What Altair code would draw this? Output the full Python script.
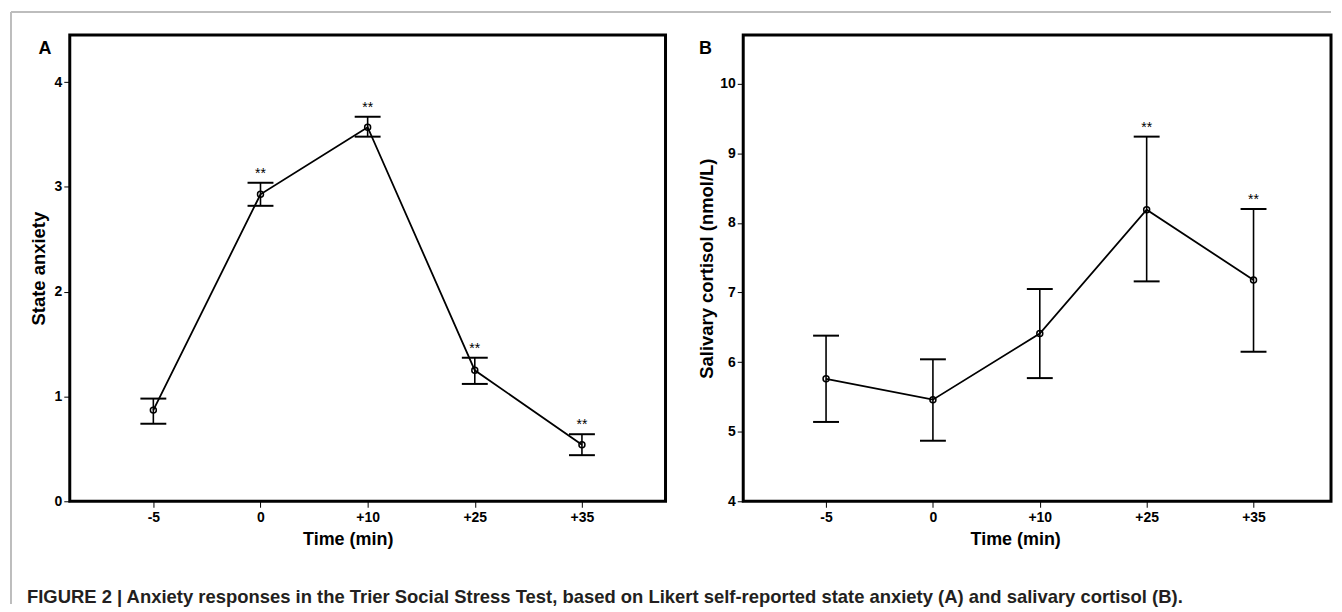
import altair as alt
import pandas as pd

# ---- data ----
times = ["-5", "0", "+10", "+25", "+35"]

anx_mean = [0.87, 2.93, 3.57, 1.25, 0.54]
anx_lo = [0.74, 2.82, 3.48, 1.12, 0.44]
anx_hi = [0.98, 3.04, 3.67, 1.37, 0.64]
anx_sig = ["", "**", "**", "**", "**"]

cort_mean = [5.76, 5.46, 6.41, 8.19, 7.18]
cort_lo = [5.14, 4.87, 5.77, 7.16, 6.15]
cort_hi = [6.38, 6.04, 7.05, 9.24, 8.20]
cort_sig = ["", "", "", "**", "**"]

anx_ticks = [0, 1, 2, 3, 4]
cort_ticks = [4, 5, 6, 7, 8, 9, 10]

caption = ("FIGURE 2 | Anxiety responses in the Trier Social Stress Test, based on Likert "
           "self-reported state anxiety (A) and salivary cortisol (B).")

FONT = "Liberation Sans, Arial, sans-serif"
label_expr = "[" + ",".join("'%s'" % t for t in times) + "][datum.value]"
H = 468


def panel(mean, lo, hi, sig, ydomain, yticks, ytitle, xdomain, width,
          ytitle_x, xtitle_x, letter, letter_x, extra=None):
    df = pd.DataFrame({"idx": list(range(len(times))), "mean": mean,
                       "lo": lo, "hi": hi, "sig": sig})
    base = alt.Chart(df)
    x = alt.X("idx:Q",
              scale=alt.Scale(domain=xdomain, nice=False, zero=False),
              axis=alt.Axis(values=list(range(len(times))), labelExpr=label_expr,
                            title="Time (min)", titleFontSize=18, labelFontSize=14,
                            titleX=xtitle_x, titleY=38, titleBaseline="middle",
                            titleAlign="center", labelPadding=3))
    y = alt.Y("mean:Q",
              scale=alt.Scale(domain=ydomain, nice=False, zero=False),
              axis=alt.Axis(values=yticks, format="d", title=ytitle, titleFontSize=18.5,
                            labelFontSize=14,
                            titleX=ytitle_x, titleY=H / 2, titleBaseline="middle",
                            titleAlign="center", labelPadding=2))
    err = base.mark_rule(color="black", strokeWidth=1.6, opacity=1).encode(
        x="idx:Q", y="lo:Q", y2="hi:Q")
    line = base.mark_line(color="black", strokeWidth=1.8, opacity=1).encode(x=x, y=y)
    cap_hi = base.mark_tick(orient="horizontal", color="black", size=26,
                            thickness=2, opacity=1).encode(x="idx:Q", y="hi:Q")
    cap_lo = base.mark_tick(orient="horizontal", color="black", size=26,
                            thickness=2, opacity=1).encode(x="idx:Q", y="lo:Q")
    pts = base.mark_point(shape="circle", filled=False, color="black", size=36,
                          strokeWidth=1.5, opacity=1).encode(x="idx:Q", y="mean:Q")
    stars = base.mark_text(dy=-5, baseline="alphabetic", fontSize=14, font=FONT,
                           color="black").encode(x="idx:Q", y="hi:Q", text="sig:N")
    lab = alt.Chart(pd.DataFrame({"t": [letter]})).mark_text(
        align="center", baseline="alphabetic", fontSize=18, fontWeight="bold",
        font=FONT, color="black").encode(x=alt.value(letter_x), y=alt.value(19), text="t:N")
    layers = [err, line, cap_hi, cap_lo, pts, stars, lab]
    if extra:
        layers += extra
    return alt.layer(*layers).properties(width=width, height=H)


dummy = pd.DataFrame({"a": [0]})
frame_left = alt.Chart(dummy).mark_rule(color="#bdbdbd", strokeWidth=2).encode(
    x=alt.value(-59), y=alt.value(-23), y2=alt.value(571))
frame_top = alt.Chart(dummy).mark_rule(color="#bdbdbd", strokeWidth=2).encode(
    x=alt.value(-59), x2=alt.value(1266), y=alt.value(-23))
cap_txt = alt.Chart(pd.DataFrame({"c": [caption]})).mark_text(
    align="left", baseline="alphabetic", fontSize=18.5, fontWeight="bold",
    font=FONT, color="#231f20").encode(x=alt.value(-43), y=alt.value(570), text="c:N")

chart_a = panel(anx_mean, anx_lo, anx_hi, anx_sig, [0, 4.45], anx_ticks,
                "State anxiety", [-0.78, 4.78], 598, -31, 279, "A", -25,
                extra=[frame_left, frame_top, cap_txt])
chart_b = panel(cort_mean, cort_lo, cort_hi, cort_sig, [4, 10.7], cort_ticks,
                "Salivary cortisol (nmol/L)", [-0.775, 4.725], 590, -37, 273, "B", -38)

chart = alt.hconcat(chart_a, chart_b, spacing=78, bounds="flush").properties(
    padding={"left": 0, "top": 0, "right": 0, "bottom": 0}
).configure_view(stroke="black", strokeWidth=3).configure_axis(
    domain=False, grid=False, tickColor="black", tickSize=6, tickWidth=1,
    labelColor="black", titleColor="black", labelFont=FONT, titleFont=FONT,
    labelFontWeight="bold", titleFontWeight="bold", labelFontSize=14
)

chart.save("out.html", embed_options={"renderer": "svg", "actions": False})
